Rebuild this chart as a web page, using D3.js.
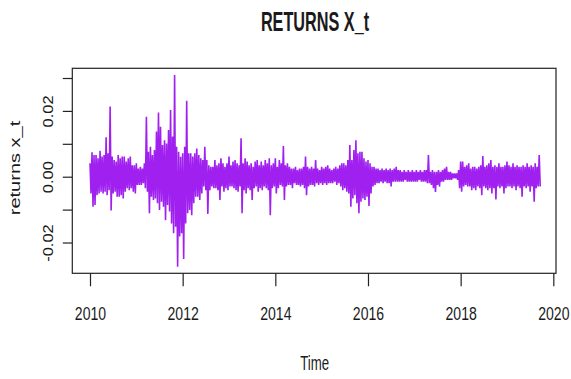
<!DOCTYPE html>
<html>
<head>
<meta charset="utf-8">
<script src="https://cdn.jsdelivr.net/npm/d3@7"></script>
<style>
  html, body { margin: 0; padding: 0; background: #fff; }
  svg { display: block; }
  text { font-family: "Liberation Sans", Arial, sans-serif; fill: #1a1a1a; }
</style>
</head>
<body>
<svg id="chart" width="571" height="379"></svg>
<script>
// Daily returns X_t summarised in consecutive blocks of 1/23 year:
// highest and lowest return inside each block, in units of 0.001.
const startYear = 2010;
const blockStep = 1 / 23;
const highs = [
  4.1, 7.4, 6.6, 6.6, 5.6, 7.9, 6.1, 6.6, 12.0, 7.1,
  21.3, 6.1, 5.1, 4.6, 6.6, 5.6, 6.1, 6.1, 4.6, 5.6,
  6.1, 3.5, 3.5, 4.1, 2.5, 3.0, 2.5, 4.1, 18.2, 7.6,
  9.1, 6.6, 8.1, 13.7, 19.5, 15.2, 9.6, 11.1, 10.1, 14.2,
  20.3, 12.2, 30.9, 9.1, 7.6, 6.1, 7.1, 9.1, 23.1, 7.1,
  7.1, 6.1, 7.1, 8.6, 6.6, 5.6, 5.1, 9.1, 5.1, 3.5,
  3.0, 3.0, 5.1, 3.5, 4.1, 5.6, 4.1, 3.0, 4.1, 6.1,
  3.5, 4.6, 5.1, 4.1, 3.5, 11.7, 4.1, 5.6, 4.6, 3.5,
  4.1, 3.0, 4.6, 5.1, 3.5, 4.6, 3.5, 5.1, 4.1, 5.6,
  3.5, 4.1, 5.6, 3.0, 5.1, 4.1, 9.3, 3.5, 4.1, 3.0,
  2.5, 2.5, 3.0, 2.0, 2.5, 2.5, 3.0, 6.1, 3.0, 2.5,
  3.0, 2.5, 5.1, 2.5, 2.0, 3.0, 2.5, 3.0, 3.5, 2.5,
  2.0, 2.5, 3.0, 2.5, 3.5, 4.1, 4.1, 3.5, 5.1, 9.6,
  5.1, 8.1, 11.1, 7.1, 7.6, 7.6, 5.6, 4.6, 5.1, 4.1,
  3.0, 3.0, 2.5, 2.5, 2.0, 2.5, 2.0, 2.5, 2.0, 2.5,
  2.0, 2.5, 3.0, 2.0, 2.0, 1.5, 2.0, 1.5, 2.0, 1.5,
  2.0, 1.5, 2.0, 1.5, 2.0, 1.5, 2.0, 2.0, 6.6, 1.5,
  2.0, 1.5, 1.5, 2.0, 1.5, 2.0, 2.5, 3.0, 1.5, 1.5,
  1.0, 1.0, 1.0, 2.0, 4.6, 4.6, 3.0, 3.5, 4.1, 2.5,
  3.0, 3.0, 2.5, 3.0, 3.5, 6.3, 3.0, 3.5, 4.1, 5.1,
  3.0, 3.5, 3.0, 4.1, 3.0, 3.0, 3.5, 4.6, 3.5, 3.0,
  4.1, 3.0, 3.5, 3.0, 3.0, 3.5, 3.0, 4.1, 3.0, 3.5,
  3.0, 4.1, 3.0, 6.6
];
const lows = [
  -5.1, -9.1, -8.6, -5.6, -5.1, -4.6, -5.1, -4.6, -5.6, -4.1,
  -10.3, -5.1, -4.6, -6.1, -6.1, -5.6, -6.6, -4.6, -3.5, -4.1,
  -3.5, -4.6, -5.1, -2.5, -2.5, -2.5, -2.0, -3.5, -4.6, -11.1,
  -6.1, -7.1, -6.6, -8.1, -10.1, -7.6, -9.1, -13.2, -8.6, -10.6,
  -14.2, -17.2, -15.2, -27.4, -18.2, -17.2, -25.0, -14.2, -11.1, -10.1,
  -11.7, -8.1, -6.1, -6.1, -7.1, -5.1, -3.0, -4.1, -11.3, -4.1,
  -3.0, -3.5, -3.5, -4.1, -7.1, -3.0, -4.6, -3.5, -4.1, -3.0,
  -3.0, -3.5, -4.1, -4.6, -3.0, -11.1, -4.1, -5.1, -3.5, -4.1,
  -7.1, -3.5, -3.0, -4.6, -3.5, -4.1, -3.0, -3.5, -4.1, -11.7,
  -3.5, -3.0, -5.1, -3.5, -2.5, -3.0, -7.1, -3.0, -2.5, -2.5,
  -3.5, -2.0, -2.5, -2.5, -3.0, -2.5, -3.5, -5.6, -3.0, -2.5,
  -2.5, -3.0, -2.0, -2.5, -2.0, -2.5, -2.0, -2.5, -2.0, -2.0,
  -2.0, -1.5, -2.5, -2.0, -3.0, -4.1, -3.5, -4.6, -5.1, -9.1,
  -6.6, -5.6, -8.1, -11.1, -7.6, -6.6, -7.1, -6.1, -8.9, -5.1,
  -3.0, -2.5, -2.0, -2.0, -1.5, -2.0, -1.5, -2.0, -2.0, -3.0,
  -1.5, -1.5, -1.5, -1.5, -1.5, -1.5, -1.0, -1.5, -1.5, -1.5,
  -1.5, -1.5, -1.5, -1.0, -1.5, -1.5, -1.5, -2.0, -2.0, -2.5,
  -3.5, -4.6, -2.5, -3.0, -1.5, -1.5, -1.0, -1.0, -1.0, -1.0,
  -0.5, -0.5, -1.0, -3.5, -4.6, -3.0, -2.5, -3.0, -3.0, -4.1,
  -3.5, -4.1, -3.0, -3.5, -5.6, -3.0, -3.5, -4.1, -3.5, -5.1,
  -3.5, -6.9, -3.0, -3.5, -3.0, -5.1, -3.5, -3.0, -3.0, -3.5,
  -3.0, -4.1, -3.0, -3.5, -6.1, -3.0, -3.5, -3.0, -4.6, -3.0,
  -7.6, -3.5, -3.0, -3.0
];
const unit = 0.001;

const xTickValues = [2010, 2012, 2014, 2016, 2018, 2020];
const yTickValues = [-0.02, -0.01, 0.00, 0.01, 0.02, 0.03];
const yTickLabels = ["-0.02", "0.00", "0.02"];

const titleText = "RETURNS X_t";
const xTitleText = "Time";
const yTitleText = "returns x_t";
const lineColor = "#A020F0";

// Plot frame
const frame = { left: 72.3, right: 556, top: 68.3, bottom: 273.3 };

const svg = d3.select("#chart");

const x = d3.scaleLinear()
  .domain([2009.618, 2020.058])
  .range([frame.left, frame.right]);
const y = d3.scaleLinear()
  .domain([-0.02936, 0.03295])
  .range([frame.bottom, frame.top]);

// Series: each block contributes its high then its low, so the path
// sweeps across the full daily range of every block.
const points = [];
highs.forEach((h, i) => {
  const t = startYear + i * blockStep;
  points.push([t, h * unit]);
  points.push([t + blockStep / 2, lows[i] * unit]);
});

const line = d3.line()
  .x(d => x(d[0]))
  .y(d => y(d[1]));

svg.append("path")
  .datum(points)
  .attr("d", line)
  .attr("fill", "none")
  .attr("stroke", lineColor)
  .attr("stroke-width", 1.6)
  .attr("stroke-linejoin", "miter")
  .attr("stroke-miterlimit", 1);

// Frame box
svg.append("rect")
  .attr("x", frame.left)
  .attr("y", frame.top)
  .attr("width", frame.right - frame.left)
  .attr("height", frame.bottom - frame.top)
  .attr("fill", "none")
  .attr("stroke", "#222")
  .attr("stroke-width", 1.2);

// X axis
const xAxis = svg.append("g")
  .attr("transform", `translate(0,${frame.bottom})`)
  .call(d3.axisBottom(x).tickValues(xTickValues).tickSize(13).tickSizeOuter(0)
    .tickFormat(d3.format("d")));
xAxis.select(".domain").remove();
xAxis.selectAll(".tick line").attr("stroke", "#222").attr("stroke-width", 1.2);
xAxis.selectAll(".tick text")
  .attr("y", 0).attr("dy", 0)
  .attr("transform", "translate(0,46.7) scale(0.74,1)")
  .style("font-size", "19px")
  .attr("text-anchor", "middle");

// Y axis: ticks every 0.01, labels only where they fit
const yAxis = svg.append("g")
  .attr("transform", `translate(${frame.left},0)`)
  .call(d3.axisLeft(y).tickValues(yTickValues).tickSize(9.5).tickSizeOuter(0)
    .tickFormat(d => {
      const s = d.toFixed(2);
      return yTickLabels.includes(s) ? s : "";
    }));
yAxis.select(".domain").remove();
yAxis.selectAll(".tick line").attr("stroke", "#222").attr("stroke-width", 1.2);
yAxis.selectAll(".tick text")
  .attr("x", 0).attr("y", 0).attr("dy", 0)
  .attr("transform", "translate(-19,0) scale(0.85,1) rotate(-90)")
  .style("font-size", "16.5px")
  .attr("text-anchor", "middle");

// Titles
svg.append("text")
  .attr("transform", "translate(315,31) scale(0.58,1)")
  .attr("text-anchor", "middle")
  .style("font-size", "28px")
  .style("font-weight", "bold")
  .text(titleText);

svg.append("text")
  .attr("transform", "translate(314.7,369.5) scale(0.63,1)")
  .attr("text-anchor", "middle")
  .style("font-size", "21px")
  .text(xTitleText);

svg.append("text")
  .attr("transform", "translate(20.3,168) scale(0.7,1) rotate(-90)")
  .attr("text-anchor", "middle")
  .style("font-size", "20px")
  .text(yTitleText);
</script>
</body>
</html>
